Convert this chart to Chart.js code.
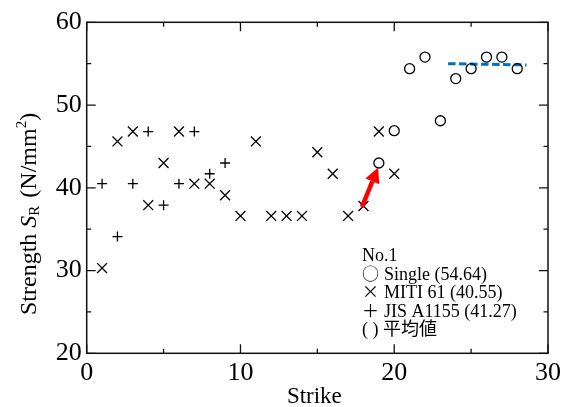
<!DOCTYPE html>
<html>
<head>
<meta charset="utf-8">
<script src="https://cdn.jsdelivr.net/npm/chart.js@4.4.0/dist/chart.umd.min.js"></script>
<style>
  body { margin: 0; background: #fff; }
  canvas { display: block; }
</style>
</head>
<body>
<canvas id="myChart" width="565" height="407"></canvas>
<script>
// values (strike number -> strength N/mm2)
const singleStrike = [19, 20, 21, 22, 23, 24, 25, 26, 27, 28];
const singleStrength = [43.0, 46.9, 54.4, 55.8, 48.1, 53.2, 54.4, 55.8, 55.8, 54.4];

const mitiStrike = [1, 2, 3, 4, 5, 6, 7, 8, 9, 10, 11, 12, 13, 14, 15, 16, 17, 18, 19, 20];
const mitiStrength = [30.3, 45.6, 46.8, 37.9, 43.0, 46.8, 40.5, 40.5, 39.1, 36.6,
                      45.6, 36.6, 36.6, 36.6, 44.3, 41.7, 36.6, 37.8, 46.8, 41.7];

const jisStrike = [1, 2, 3, 4, 5, 6, 7, 8, 9];
const jisStrength = [40.5, 34.1, 40.5, 46.8, 37.9, 40.5, 46.8, 41.7, 43.0];

// dashed average line for the single hammer
const avgStrike = [23.5, 28.6];
const avgStrength = [55.0, 54.85];

// red arrow (strike, strength)
const arrowFrom = [17.9, 37.7];
const arrowTo = [18.95, 42.45];

const xMajor = [0, 10, 20, 30];
const yMajor = [20, 30, 40, 50, 60];

const legendTitle = "No.1";
const legendMarks = ["○", "×", "＋"];
const legendNames = ["Single (54.64)", "MITI 61 (40.55)", "JIS A1155 (41.27)"];
const legendNote = "( ) 平均値";

const serif = '"Liberation Serif", "Times New Roman", serif';
const cjk = '"Noto Sans CJK JP", sans-serif';

function toPoints(xs, ys) {
  return xs.map((x, i) => ({ x: x, y: ys[i] }));
}

// draws frame, inward ticks, titles, legend text and arrow
const decorPlugin = {
  id: 'decor',
  afterDraw(chart) {
    const ctx = chart.ctx;
    const a = chart.chartArea;
    const xs = chart.scales.x;
    const ys = chart.scales.y;
    ctx.save();

    // dashed average line is a dataset, arrow drawn here
    const x1 = xs.getPixelForValue(arrowFrom[0]), y1 = ys.getPixelForValue(arrowFrom[1]);
    const x2 = xs.getPixelForValue(arrowTo[0]), y2 = ys.getPixelForValue(arrowTo[1]);
    const ang = Math.atan2(y2 - y1, x2 - x1);
    const headLen = 15, headW = 7.5;
    const bx = x2 - headLen * Math.cos(ang), by = y2 - headLen * Math.sin(ang);
    ctx.strokeStyle = '#ff0000';
    ctx.fillStyle = '#ff0000';
    ctx.lineWidth = 4.5;
    ctx.beginPath();
    ctx.moveTo(x1, y1);
    ctx.lineTo(bx, by);
    ctx.stroke();
    ctx.beginPath();
    ctx.moveTo(x2, y2);
    ctx.lineTo(bx + headW * Math.sin(ang), by - headW * Math.cos(ang));
    ctx.lineTo(bx - headW * Math.sin(ang), by + headW * Math.cos(ang));
    ctx.closePath();
    ctx.fill();

    // frame
    ctx.strokeStyle = '#111';
    ctx.lineWidth = 1.5;
    ctx.strokeRect(a.left, a.top, a.right - a.left, a.bottom - a.top);

    // inward ticks on all four sides
    ctx.lineWidth = 1.3;
    ctx.beginPath();
    xs.ticks.forEach(t => {
      const px = xs.getPixelForValue(t.value);
      const len = xMajor.includes(t.value) ? 9 : 4.5;
      ctx.moveTo(px, a.bottom); ctx.lineTo(px, a.bottom - len);
      ctx.moveTo(px, a.top); ctx.lineTo(px, a.top + len);
    });
    ys.ticks.forEach(t => {
      const py = ys.getPixelForValue(t.value);
      const len = yMajor.includes(t.value) ? 9 : 4.5;
      ctx.moveTo(a.left, py); ctx.lineTo(a.left + len, py);
      ctx.moveTo(a.right, py); ctx.lineTo(a.right - len, py);
    });
    ctx.stroke();

    ctx.fillStyle = '#000';

    // x title
    ctx.font = '23px ' + serif;
    ctx.textAlign = 'center';
    ctx.textBaseline = 'alphabetic';
    ctx.fillText('Strike', (a.left + a.right) / 2 - 3, 403);

    // y title: Strength S_R (N/mm^2)
    ctx.save();
    ctx.translate(36, 315);
    ctx.rotate(-Math.PI / 2);
    ctx.textAlign = 'left';
    let tx = 0;
    ctx.font = '24px ' + serif;
    ctx.fillText('Strength ', tx, 0);
    tx += ctx.measureText('Strength ').width;
    ctx.font = 'italic 24px ' + serif;
    ctx.fillText('S', tx, 0);
    tx += ctx.measureText('S').width;
    ctx.font = '15px ' + serif;
    ctx.fillText('R', tx, 3);
    tx += ctx.measureText('R').width + 8;
    ctx.font = '24px ' + serif;
    ctx.fillText('(N/mm', tx, 0);
    tx += ctx.measureText('(N/mm').width;
    ctx.font = '15px ' + serif;
    ctx.fillText('2', tx, -10);
    tx += ctx.measureText('2').width;
    ctx.font = '24px ' + serif;
    ctx.fillText(')', tx, 0);
    ctx.restore();

    // legend text block
    const lx = 362, markX = 370.5, nameX = 384;
    const baseY = 261, step = 18.5;
    ctx.textAlign = 'left';
    ctx.font = '18px ' + serif;
    ctx.fillText(legendTitle, lx, baseY);
    legendNames.forEach((name, i) => {
      const yy = baseY + step * (i + 1);
      ctx.font = '17px ' + cjk;
      ctx.textAlign = 'center';
      ctx.fillText(legendMarks[i], markX, yy);
      ctx.textAlign = 'left';
      ctx.font = '18px ' + serif;
      ctx.fillText(name, nameX, yy);
    });
    ctx.font = '18px ' + serif + ', ' + cjk;
    ctx.fillText(legendNote, lx, baseY + step * 4);

    ctx.restore();
  }
};

const ctxChart = document.getElementById('myChart');
new Chart(ctxChart, {
  type: 'scatter',
  data: {
    datasets: [
      {
        label: 'Single',
        data: toPoints(singleStrike, singleStrength),
        pointStyle: 'circle',
        pointRadius: 5,
        pointBorderWidth: 1.3,
        borderColor: '#000',
        backgroundColor: 'rgba(0,0,0,0)'
      },
      {
        label: 'MITI 61',
        data: toPoints(mitiStrike, mitiStrength),
        pointStyle: 'crossRot',
        pointRadius: 7,
        pointBorderWidth: 1.3,
        borderColor: '#000',
        backgroundColor: '#000'
      },
      {
        label: 'JIS A1155',
        data: toPoints(jisStrike, jisStrength),
        pointStyle: 'cross',
        pointRadius: 5,
        pointBorderWidth: 1.3,
        borderColor: '#000',
        backgroundColor: '#000'
      },
      {
        label: 'average',
        type: 'line',
        data: toPoints(avgStrike, avgStrength),
        borderColor: '#0072BD',
        borderWidth: 3,
        borderDash: [7.5, 3.5],
        pointRadius: 0,
        fill: false
      }
    ]
  },
  options: {
    responsive: false,
    animation: false,
    devicePixelRatio: 1,
    layout: { padding: { top: 22.3, right: 15, left: 0, bottom: 0 } },
    plugins: {
      legend: { display: false },
      tooltip: { enabled: false }
    },
    scales: {
      x: {
        type: 'linear',
        min: 0,
        max: 30,
        afterFit(scale) { scale.height = 53.7; },
        grid: { display: false, drawTicks: false },
        border: { display: false },
        ticks: {
          stepSize: 5,
          padding: 4,
          color: '#000',
          font: { family: serif, size: 26 },
          maxRotation: 0,
          callback: (v) => xMajor.includes(v) ? String(v) : ''
        }
      },
      y: {
        type: 'linear',
        min: 20,
        max: 60,
        afterFit(scale) { scale.width = 86.7; },
        grid: { display: false, drawTicks: false },
        border: { display: false },
        ticks: {
          stepSize: 5,
          padding: 5,
          color: '#000',
          font: { family: serif, size: 26 },
          callback: (v) => yMajor.includes(v) ? String(v) : ''
        }
      }
    }
  },
  plugins: [decorPlugin]
});
</script>
</body>
</html>
